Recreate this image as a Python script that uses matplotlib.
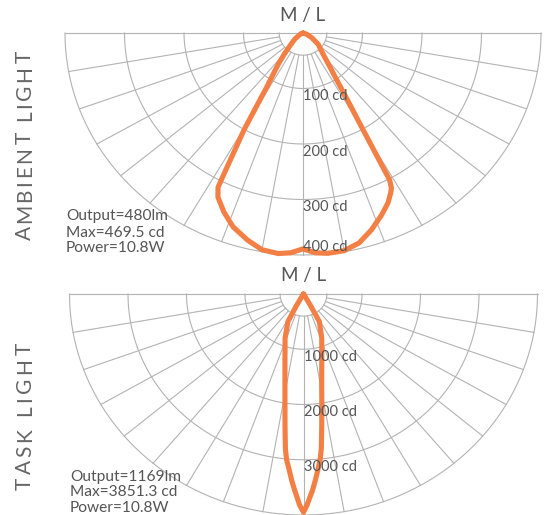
import numpy as np
import matplotlib.pyplot as plt

plt.rcParams['font.family'] = ['Lato', 'DejaVu Sans']

# ambient light distribution: angle in degrees (0 = straight down), intensity in cd
ambient_angle = [-90, -70, -60, -52, -45, -40, -37, -34.5, -32, -30.5, -29.6, -28.5, -27.8,
                 -27.2, -25.8, -22.4, -18.6, -14, -10, -6, -3, 0,
                 3, 6, 10, 14, 18, 22, 25, 27, 28, 28.8, 29.6, 30.4, 31.8, 34.2,
                 36.7, 41, 51.6, 60, 70, 90]
ambient_cd = [0, 4, 8, 20, 33, 55, 78, 100, 135, 185, 235, 282, 324,
              367, 386, 410, 433, 452, 466, 469.5, 466, 457,
              466, 469, 468, 458, 438, 415, 397, 381, 372, 355, 270, 218, 166, 114,
              88, 62, 38, 20, 8, 0]
ambient_rmax = 470
ambient_rings = ['100 cd', '200 cd', '300 cd', '400 cd']
ambient_info = ['Output=480lm', 'Max=469.5 cd', 'Power=10.8W']

# task light distribution
task_angle = [-90, -40, -31, -29.5, -28, -21.5, -14.8, -11.2, -9, -7.5, -6.3, -5.5, -4.4, -3.4,
              -2.45, -1, 0,
              0.9, 2.5, 3.4, 4.4, 5.4, 6.2, 7.4, 8.9, 11, 14.6, 21.3, 28.5, 29.5, 31, 40, 90]
task_cd = [0, 10, 80, 270, 554, 838, 1210, 1591, 1975, 2360, 2747, 2938, 3112, 3300,
           3463, 3725, 3851.3,
           3725, 3463, 3300, 3113, 2938, 2747, 2360, 1974, 1589, 1209, 837, 554, 270, 80, 10, 0]
task_rmax = 3900
task_rings = ['1000 cd', '2000 cd', '3000 cd']
task_info = ['Output=1169lm', 'Max=3851.3 cd', 'Power=10.8W']

W, H = 544, 515
grid_col = '#b3b3b3'
text_col = '#555555'
orange = '#f47f45'

fig = plt.figure(figsize=(W / 100, H / 100), dpi=100)
renderer = fig.canvas.get_renderer()


def px(x, y):
    return x / W, 1 - y / H


def text_w(s, size):
    t = fig.text(0, 0, s, fontsize=size)
    w = t.get_window_extent(renderer).width
    t.remove()
    return w


def tracked_vertical(x, yc, s, size, track, color):
    # letter-spaced text running bottom to top, centred on yc (pixels from top)
    offs = [text_w(s[:i + 1], size) - text_w(ch, size) + i * track if ch != ' ' else None
            for i, ch in enumerate(s)]
    total = text_w(s, size) + (len(s) - 1) * track
    y0 = yc + total / 2
    for ch, o in zip(s, offs):
        if o is None:
            continue
        fig.text(*px(x, y0 - o), ch, fontsize=size, color=color, rotation=90,
                 rotation_mode='anchor', ha='left', va='center')


def panel(cx, cy, rx, ry, R, ang, cd, rings, ring_y, info, info_x, info_y, side, side_y, track):
    ax = fig.add_axes([(cx - rx) / W, 1 - (cy + ry) / H, 2 * rx / W, ry / H])
    ax.set_xlim(-R, R)
    ax.set_ylim(-R, 0)
    ax.axis('off')

    # polar grid
    t = np.radians(np.linspace(-90, 90, 361))
    for f in [0.1, 0.25, 0.5, 0.75, 1.0]:
        ax.plot(f * R * np.sin(t), -f * R * np.cos(t), color=grid_col, lw=0.8, clip_on=False)
    for a in np.radians(np.arange(-90, 91, 10)):
        ax.plot([0.1 * R * np.sin(a), R * np.sin(a)], [-0.1 * R * np.cos(a), -R * np.cos(a)],
                color=grid_col, lw=0.8, clip_on=False)
    ax.plot([-0.1 * R, 0.1 * R], [0, 0], color=grid_col, lw=0.8, clip_on=False)

    # intensity curve
    a = np.radians(ang)
    c = np.array(cd)
    ax.plot(c * np.sin(a), -c * np.cos(a), color=orange, lw=3.7, solid_joinstyle='round',
            solid_capstyle='round', clip_on=False, zorder=5)

    for lab, y in zip(rings, ring_y):
        fig.text(*px(cx, y), lab, color=text_col, fontsize=10.5, ha='left', va='center', zorder=6)
    for lab, y in zip(info, info_y):
        fig.text(*px(info_x, y), lab, color=text_col, fontsize=11.2, ha='left', va='center')
    fig.text(*px(cx, cy - 18), 'M / L', color=text_col, fontsize=13.5, ha='center', va='center')
    tracked_vertical(25, side_y, side, 15, track, '#666666')


panel(303, 33, 238, 222, ambient_rmax, ambient_angle, ambient_cd,
      ambient_rings, [96, 152, 207, 247], ambient_info, 66, [216, 233, 248],
      'AMBIENT LIGHT', 145.5, 2.6)
panel(303.5, 294, 234, 221, task_rmax, task_angle, task_cd,
      task_rings, [357, 412, 467], task_info, 70, [477, 492, 508],
      'TASK LIGHT', 416, 3.4)

fig.savefig('out.png', dpi=100)
